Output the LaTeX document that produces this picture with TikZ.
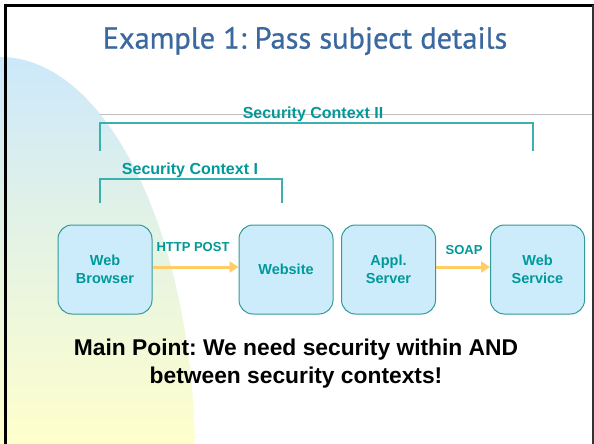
\documentclass[tikz,border=0pt]{standalone}
\usepackage{fontspec}
\setmainfont{Liberation Sans}
\newfontfamily\titlefont[FakeBold=0.7]{PT Sans}
\usetikzlibrary{arrows.meta}
\definecolor{teal1}{RGB}{0,153,153}
\definecolor{boxline}{RGB}{51,153,153}
\definecolor{boxfill}{RGB}{204,236,252}
\definecolor{arrowc}{RGB}{255,204,102}
\definecolor{titlec}{RGB}{58,104,160}
\definecolor{bgtop}{RGB}{204,232,250}
\definecolor{bgbot}{RGB}{255,255,204}
\definecolor{brk}{RGB}{60,175,175}
\frenchspacing
\begin{document}
\begin{tikzpicture}[x=1pt,y=-1pt,
  sysbox/.style={draw=boxline,line width=1pt,fill=boxfill,rounded corners=14pt,
    minimum width=94pt,minimum height=89pt,align=center,inner sep=0pt,
    font=\fontsize{14.5}{17.5}\selectfont\bfseries,text=teal1},
  flow/.style={draw=arrowc,line width=3pt,-{Triangle[length=9pt,width=11pt]}},
  flowlbl/.style={font=\fontsize{13}{15}\selectfont\bfseries,text=teal1,inner sep=0pt},
  ctxlbl/.style={font=\fontsize{16}{18}\selectfont\bfseries,text=teal1,inner sep=0pt},
  bracket/.style={draw=brk,line width=1.2pt}]
\useasboundingbox (0,0) rectangle (594,444);
\fill[white] (0,0) rectangle (594,444);
% background decoration
\begin{scope}
  \clip (0,460) ellipse [x radius=195, y radius=403];
  \shade[top color=bgtop,bottom color=bgbot] (0,57) rectangle (200,444);
\end{scope}
% frame
\draw[black,line width=3pt] (5.5,444) -- (5.5,5.5) -- (594,5.5);
\draw[black!80,line width=1.5pt] (593,5) -- (593,444);
% title
\node[text=titlec,font=\titlefont\fontsize{30.4}{36}\selectfont,inner sep=0pt] (title) at (305,41) {Example 1: Pass subject details};
% gray line
\draw[black!25,line width=1pt] (100,114) -- (592,114);
% brackets
\coordinate (b2a) at (100,151);
\coordinate (b2b) at (533,151);
\draw[bracket] (b2a) |- (316,123) -| (b2b);
\node[ctxlbl] (ctx2) at (313,114) {Security Context II};
\coordinate (b1a) at (100,203);
\coordinate (b1b) at (282,203);
\draw[bracket] (b1a) |- (190,179) -| (b1b);
\node[ctxlbl] (ctx1) at (190,170) {Security Context I};
% boxes
\node[sysbox] (wb) at (105,269.5) {Web\\Browser};
\node[sysbox] (ws) at (286,269.5) {Website};
\node[sysbox] (as) at (388.5,269.5) {Appl.\\Server};
\node[sysbox] (wsv) at (537.5,269.5) {Web\\Service};
% arrows
\draw[flow] (wb.east |- 0,267) -- (ws.west |- 0,267);
\draw[flow] (as.east |- 0,267) -- (wsv.west |- 0,267);
\node[flowlbl] (l1) at (193,247) {HTTP POST};
\node[flowlbl] (l2) at (464,250) {SOAP};
% main point
\node[font=\fontsize{22.8}{28}\selectfont\bfseries,align=center,inner sep=0pt] (main) at (296,364) {Main Point: We need security within AND\\between security contexts!};
\end{tikzpicture}
\end{document}
